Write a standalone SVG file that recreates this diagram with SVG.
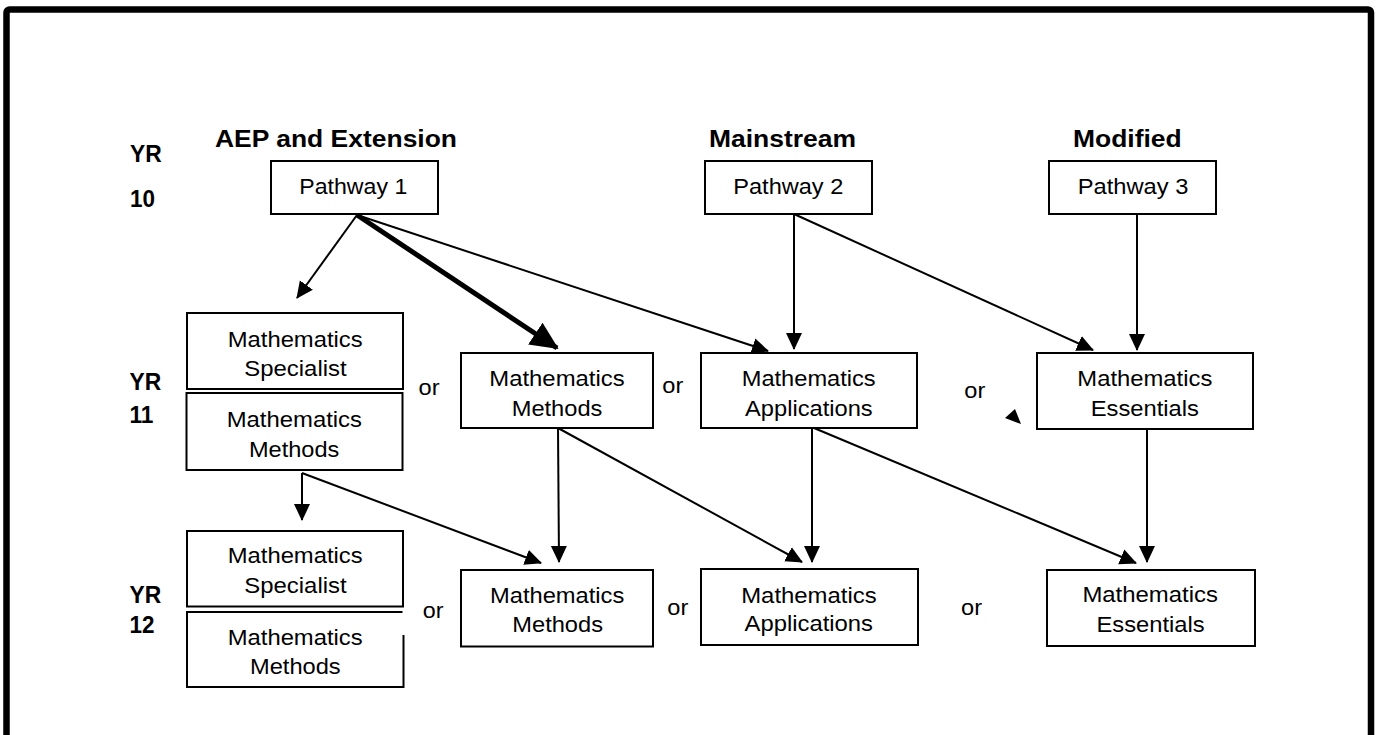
<svg xmlns="http://www.w3.org/2000/svg" width="1376" height="735" viewBox="0 0 1376 735">
<style>
.box{fill:#fff;stroke:#000;stroke-width:2}
.t{font-family:"Liberation Sans",Arial,sans-serif;font-size:22px;fill:#000}
.h{font-family:"Liberation Sans",Arial,sans-serif;font-size:23px;font-weight:bold;fill:#000}
.c{fill:none;stroke:#000;stroke-width:2}
.ck{fill:none;stroke:#000;stroke-width:5}
</style>
<defs>
<marker id="ah" markerUnits="userSpaceOnUse" markerWidth="17" markerHeight="17" viewBox="0 0 17 17" refX="16" refY="8.5" orient="auto">
<path d="M0,0.5 L17,8.5 L0,16.5 z" fill="#000"/>
</marker>
<marker id="ahk" markerUnits="userSpaceOnUse" markerWidth="28" markerHeight="26" viewBox="0 0 28 26" refX="26" refY="13" orient="auto">
<path d="M0,0 L28,13 L0,26 z" fill="#000"/>
</marker>
</defs>
<rect width="1376" height="735" fill="#fff"/>
<rect x="6.5" y="9.5" width="1364.5" height="800" rx="3" fill="none" stroke="#000" stroke-width="6.5"/>

<g id="labels">
<text class="h" x="215" y="146.7" textLength="242" lengthAdjust="spacingAndGlyphs">AEP and Extension</text>
<text class="h" x="709" y="146.7" textLength="147" lengthAdjust="spacingAndGlyphs">Mainstream</text>
<text class="h" x="1073" y="146.7" textLength="108.7" lengthAdjust="spacingAndGlyphs">Modified</text>
<text class="h" x="130" y="161.7" textLength="31.7" lengthAdjust="spacingAndGlyphs">YR</text>
<text class="h" x="130" y="206.7" textLength="25" lengthAdjust="spacingAndGlyphs">10</text>
<text class="h" x="129.5" y="390.3" textLength="31.7" lengthAdjust="spacingAndGlyphs">YR</text>
<text class="h" x="129.5" y="422.7" textLength="24" lengthAdjust="spacingAndGlyphs">11</text>
<text class="h" x="129.5" y="602.5" textLength="31.7" lengthAdjust="spacingAndGlyphs">YR</text>
<text class="h" x="129.5" y="632.7" textLength="25" lengthAdjust="spacingAndGlyphs">12</text>
<text class="t" x="418.5" y="395" textLength="21" lengthAdjust="spacingAndGlyphs">or</text>
<text class="t" x="662.3" y="393.3" textLength="21" lengthAdjust="spacingAndGlyphs">or</text>
<text class="t" x="964.3" y="398.3" textLength="21" lengthAdjust="spacingAndGlyphs">or</text>
<text class="t" x="422.7" y="618.3" textLength="20.7" lengthAdjust="spacingAndGlyphs">or</text>
<text class="t" x="667.3" y="615" textLength="21" lengthAdjust="spacingAndGlyphs">or</text>
<text class="t" x="961" y="615" textLength="21" lengthAdjust="spacingAndGlyphs">or</text>
</g>

<g id="p1">
<rect class="box" x="271" y="161" width="167" height="53"/>
<text class="t" x="299.3" y="194.3" textLength="108" lengthAdjust="spacingAndGlyphs">Pathway 1</text>
</g>
<g id="p2">
<rect class="box" x="705" y="161" width="167" height="53"/>
<text class="t" x="733.3" y="194" textLength="110" lengthAdjust="spacingAndGlyphs">Pathway 2</text>
</g>
<g id="p3">
<rect class="box" x="1049" y="161" width="167" height="53"/>
<text class="t" x="1077.7" y="194" textLength="110.7" lengthAdjust="spacingAndGlyphs">Pathway 3</text>
</g>

<g id="y11spec">
<rect class="box" x="187" y="313" width="216" height="76"/>
<text class="t" x="227.7" y="346.7" textLength="135" lengthAdjust="spacingAndGlyphs">Mathematics</text>
<text class="t" x="244.3" y="376" textLength="102.3" lengthAdjust="spacingAndGlyphs">Specialist</text>
</g>
<g id="y11meth1">
<rect class="box" x="186.5" y="393" width="216" height="77"/>
<text class="t" x="226.7" y="426.7" textLength="135.3" lengthAdjust="spacingAndGlyphs">Mathematics</text>
<text class="t" x="249" y="456.7" textLength="90.3" lengthAdjust="spacingAndGlyphs">Methods</text>
</g>
<g id="y11meth2">
<rect class="box" x="461" y="353" width="192" height="75"/>
<text class="t" x="489.3" y="385.5" textLength="135.3" lengthAdjust="spacingAndGlyphs">Mathematics</text>
<text class="t" x="511.7" y="415.5" textLength="90.7" lengthAdjust="spacingAndGlyphs">Methods</text>
</g>
<g id="y11app">
<rect class="box" x="701" y="353" width="216" height="75"/>
<text class="t" x="741.7" y="385.7" textLength="134" lengthAdjust="spacingAndGlyphs">Mathematics</text>
<text class="t" x="745" y="415.7" textLength="127.7" lengthAdjust="spacingAndGlyphs">Applications</text>
</g>
<g id="y11ess">
<rect class="box" x="1037" y="353" width="216" height="76"/>
<text class="t" x="1077.3" y="385.7" textLength="135" lengthAdjust="spacingAndGlyphs">Mathematics</text>
<text class="t" x="1090.7" y="415.7" textLength="108.3" lengthAdjust="spacingAndGlyphs">Essentials</text>
</g>

<g id="y12spec">
<rect class="box" x="187" y="531" width="216" height="75.5"/>
<text class="t" x="227.7" y="563.3" textLength="135" lengthAdjust="spacingAndGlyphs">Mathematics</text>
<text class="t" x="244.3" y="592.7" textLength="102.3" lengthAdjust="spacingAndGlyphs">Specialist</text>
</g>
<g id="y12meth1">
<path class="box" d="M403.5,635 V687 H187 V612 H402.5" fill="none"/>
<text class="t" x="227.7" y="645" textLength="135" lengthAdjust="spacingAndGlyphs">Mathematics</text>
<text class="t" x="250" y="674.3" textLength="90.7" lengthAdjust="spacingAndGlyphs">Methods</text>
</g>
<g id="y12meth2">
<rect class="box" x="461" y="570" width="192" height="76.5"/>
<text class="t" x="490" y="603.3" textLength="134.3" lengthAdjust="spacingAndGlyphs">Mathematics</text>
<text class="t" x="512.3" y="632.3" textLength="90.7" lengthAdjust="spacingAndGlyphs">Methods</text>
</g>
<g id="y12app">
<rect class="box" x="701" y="569" width="217" height="76"/>
<text class="t" x="741.2" y="603" textLength="135.5" lengthAdjust="spacingAndGlyphs">Mathematics</text>
<text class="t" x="744.5" y="631" textLength="128.5" lengthAdjust="spacingAndGlyphs">Applications</text>
</g>
<g id="y12ess">
<rect class="box" x="1047" y="570" width="208" height="76"/>
<text class="t" x="1082.4" y="602.3" textLength="135.5" lengthAdjust="spacingAndGlyphs">Mathematics</text>
<text class="t" x="1096.5" y="632.3" textLength="108.2" lengthAdjust="spacingAndGlyphs">Essentials</text>
</g>

<g id="connectors">
<line class="c" x1="357" y1="215" x2="297" y2="298" marker-end="url(#ah)"/>
<line class="ck" x1="357" y1="215" x2="557" y2="348" marker-end="url(#ahk)"/>
<line class="c" x1="357" y1="215" x2="768" y2="351" marker-end="url(#ah)"/>
<line class="c" x1="794" y1="214" x2="794" y2="349" marker-end="url(#ah)"/>
<line class="c" x1="794" y1="214" x2="1093" y2="350" marker-end="url(#ah)"/>
<line class="c" x1="1137" y1="214" x2="1137" y2="350" marker-end="url(#ah)"/>
<line class="c" x1="302" y1="473" x2="302" y2="520" marker-end="url(#ah)"/>
<line class="c" x1="302" y1="473" x2="541" y2="563" marker-end="url(#ah)"/>
<line class="c" x1="558" y1="428" x2="559" y2="562" marker-end="url(#ah)"/>
<line class="c" x1="558" y1="428" x2="802" y2="562" marker-end="url(#ah)"/>
<line class="c" x1="812" y1="428" x2="812" y2="562" marker-end="url(#ah)"/>
<line class="c" x1="814" y1="428" x2="1136" y2="563" marker-end="url(#ah)"/>
<line class="c" x1="1147" y1="429" x2="1147" y2="562" marker-end="url(#ah)"/>
<polygon points="1005,418 1015,409 1021,424" fill="#000"/>
</g>
</svg>
